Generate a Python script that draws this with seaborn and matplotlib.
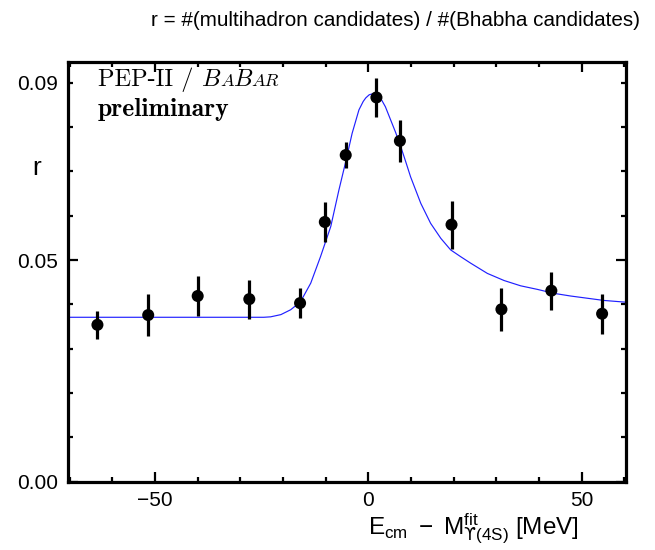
import numpy as np
import pandas as pd
import matplotlib
matplotlib.use("Agg")
import matplotlib.pyplot as plt
import seaborn as sns
from matplotlib.ticker import FixedLocator, MultipleLocator, FixedFormatter
from matplotlib.offsetbox import TextArea, HPacker, VPacker, AnchoredOffsetbox

# Measured ratio r per scan point
e_offset = [-63.5, -51.6, -40.0, -27.9, -16.0, -10.2, -5.3, 1.9, 7.4, 19.5, 31.2, 42.9, 54.8]
ratio = [0.0354, 0.0376, 0.0419, 0.0412, 0.0403, 0.0586, 0.0737,
         0.0867, 0.0769, 0.0580, 0.0389, 0.0431, 0.0379]
ratio_err = [0.0032, 0.0047, 0.0045, 0.0044, 0.0034, 0.0045, 0.0030,
             0.0043, 0.0048, 0.0054, 0.0048, 0.0043, 0.0045]

# Fitted line shape, sampled
fit_x = [-70.4, -24.5, -22.9, -20.5, -18.2, -15.9, -13.5, -11.2, -8.8, -6.9, -5.3,
         -3.8, -2.2, -1.2, -0.6, 0.2, 0.9, 1.8, 2.9, 4.0, 5.2, 6.4, 7.6, 8.8, 9.9,
         12.3, 14.6, 17.0, 19.3, 21.6, 24.0, 27.9, 31.8, 35.7, 39.6, 43.5, 47.4,
         51.3, 55.2, 60.4]
fit_r = [0.0371, 0.0371, 0.0372, 0.0377, 0.0388, 0.0406, 0.0448, 0.0508, 0.0576,
         0.0658, 0.0722, 0.0786, 0.0839, 0.0858, 0.0866, 0.0873, 0.0875, 0.0872,
         0.0865, 0.0846, 0.0817, 0.0788, 0.0756, 0.0721, 0.0688, 0.0628, 0.0583,
         0.0549, 0.0523, 0.0508, 0.0493, 0.0470, 0.0454, 0.0442, 0.0434, 0.0425,
         0.0419, 0.0414, 0.0409, 0.0405]

points = pd.DataFrame({"E": e_offset, "r": ratio, "err": ratio_err})
curve = pd.DataFrame({"E": fit_x, "r": fit_r})

sns.set_theme(style="ticks")
plt.rcParams["font.family"] = ["Liberation Sans", "DejaVu Sans"]
plt.rcParams["mathtext.fontset"] = "custom"
plt.rcParams["mathtext.rm"] = "Liberation Sans"
plt.rcParams["mathtext.it"] = "Liberation Sans:italic"
plt.rcParams["mathtext.sf"] = "Liberation Sans"
plt.rcParams["mathtext.cal"] = "DejaVu Sans"
plt.rcParams["axes.unicode_minus"] = True
plt.rcParams["text.color"] = "black"
plt.rcParams["axes.labelcolor"] = "black"

fig = plt.figure(figsize=(6.55, 5.5), dpi=100)
W, H = 655, 550
ax = fig.add_axes([68 / W, 1 - 481.7 / H, (626 - 68) / W, (481.7 - 62) / H])

sns.lineplot(data=curve, x="E", y="r", ax=ax, color="#2020ff", linewidth=0.85,
             sort=False, estimator=None, zorder=2)
ax.errorbar(points["E"], points["r"], yerr=points["err"], fmt="none",
            ecolor="black", elinewidth=2.3, capsize=0, zorder=3)
sns.scatterplot(data=points, x="E", y="r", ax=ax, color="black", s=75,
                edgecolor="none", zorder=4)

ax.set_xlim(-70.4, 60.4)
ax.set_ylim(0, 0.0947)

ax.xaxis.set_major_locator(FixedLocator([-50, 0, 50]))
ax.xaxis.set_minor_locator(MultipleLocator(10))
ax.yaxis.set_major_locator(FixedLocator([0.0, 0.05, 0.09]))
ax.yaxis.set_major_formatter(FixedFormatter(["0.00", "0.05", "0.09"]))
ax.yaxis.set_minor_locator(MultipleLocator(0.01))

for s in ax.spines.values():
    s.set_linewidth(2.3)
    s.set_color("black")
    s.set_visible(True)
ax.tick_params(which="both", direction="in", top=True, right=True,
               width=1.6, colors="black")
ax.tick_params(which="major", length=7.5, labelsize=15, pad=7)
ax.tick_params(which="minor", length=3.8)
# the 0.09 label sits on a short tick
for t in ax.yaxis.get_major_ticks()[2:]:
    t.tick1line.set_markersize(3.8)
    t.tick2line.set_markersize(3.8)

upsilon = "\u03d2"
ax.set_xlabel(r"$\mathrm{E_{cm}}\ -\ \mathrm{M}^{\mathrm{fit}}_{\mathcal{" + upsilon
              + r"}(4\mathrm{S})}$ [MeV]", fontsize=17.5)
ax.xaxis.set_label_coords(1 - (626 - 579) / 558, -0.072)
ax.xaxis.label.set_ha("right")
ax.xaxis.label.set_va("top")
ax.set_ylabel("r", rotation=0, fontsize=19)
ax.yaxis.set_label_coords(-0.056, 0.747)
ax.yaxis.label.set_va("center")

fig.text(640 / W, 1 - 20 / H, "r = #(multihadron candidates) / #(Bhabha candidates)",
         ha="right", va="center", fontsize=14.9)

# experiment tag
rm = dict(family=["cmr10", "DejaVu Serif"], size=17.5, color="black")
big = dict(family=["cmmi10", "DejaVu Serif"], size=17.5, color="black")
small = dict(family=["cmmi10", "DejaVu Serif"], size=13, color="black")
line1 = HPacker(children=[TextArea("PEP-II / ", textprops=rm),
                          TextArea("B", textprops=big),
                          TextArea("A", textprops=small),
                          TextArea("B", textprops=big),
                          TextArea("AR", textprops=small)],
                align="baseline", pad=0, sep=0)
line2 = TextArea("preliminary",
                 textprops=dict(family=["cmb10", "DejaVu Serif"], size=18.5, color="black"))
tag = VPacker(children=[line1, line2], align="left", pad=0, sep=5)
anchored = AnchoredOffsetbox(loc="upper left", child=tag, pad=0, borderpad=0,
                             frameon=False, bbox_to_anchor=(98 / W, 1 - 67 / H),
                             bbox_transform=fig.transFigure)
ax.add_artist(anchored)

fig.savefig("out.png", dpi=100)
